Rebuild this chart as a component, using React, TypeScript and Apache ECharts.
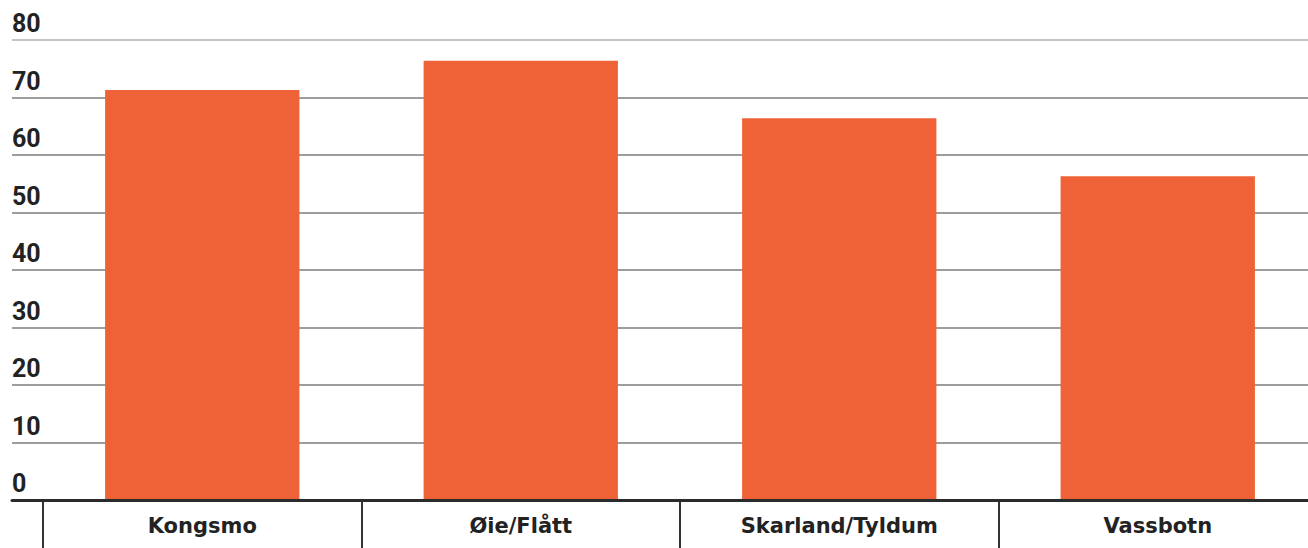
import React, { useEffect, useRef } from "react";
import * as echarts from "echarts";

const categories = ["Kongsmo", "Øie/Flått", "Skarland/Tyldum", "Vassbotn"];
const values = [71.3, 76.4, 66.4, 56.3];
const yTicks = [0, 10, 20, 30, 40, 50, 60, 70, 80];

export default function App() {
  const ref = useRef<HTMLDivElement>(null);
  useEffect(() => {
    if (!ref.current) return;
    const chart = echarts.init(ref.current, null, { renderer: "svg" });
    const font = "Roboto, 'Liberation Sans', sans-serif";
    const gridColors = yTicks.map((_, i) => (i === yTicks.length - 1 ? "#b0b0b0" : "#7d7d7d"));
    chart.setOption({
      animation: false,
      backgroundColor: "#ffffff",
      grid: [
        { left: 12, right: 0, top: 40, bottom: 48, outerBoundsMode: "none" },
        { left: 43, width: 1274, top: 40, bottom: 48, outerBoundsMode: "none", containLabel: false },
      ],
      xAxis: [
        {
          gridIndex: 0,
          type: "value",
          min: 0,
          max: 1,
          z: 10,
          axisLine: { show: true, lineStyle: { color: "#2b2b2b", width: 3 } },
          axisTick: { show: false },
          axisLabel: { show: false },
          splitLine: { show: false },
        },
        {
          gridIndex: 1,
          type: "category",
          data: categories,
          axisLine: { show: false },
          axisTick: { show: true, length: 48, lineStyle: { color: "#333", width: 2 } },
          axisLabel: {
            color: "#222",
            fontFamily: "'DejaVu Sans', sans-serif",
            fontWeight: "bold",
            fontSize: 21,
            margin: 15,
          },
        },
      ],
      yAxis: [
        {
          gridIndex: 0,
          type: "value",
          min: yTicks[0],
          max: yTicks[yTicks.length - 1],
          interval: 10,
          axisLine: { show: false },
          axisTick: { show: false },
          axisLabel: {
            inside: true,
            align: "left",
            verticalAlign: "bottom",
            margin: 0,
            padding: [0, 0, 4, 0],
            color: "#222",
            fontFamily: font,
            fontWeight: "bold",
            fontSize: 25,
          },
          splitLine: { show: true, lineStyle: { color: gridColors, width: 1.5 } },
        },
        {
          gridIndex: 1,
          type: "value",
          min: yTicks[0],
          max: yTicks[yTicks.length - 1],
          interval: 10,
          show: false,
          splitLine: { show: false },
        },
      ],
      series: [
        {
          type: "bar",
          xAxisIndex: 1,
          yAxisIndex: 1,
          data: values,
          barWidth: "61%",
          itemStyle: { color: "#EF6136" },
        },
      ],
    });
    return () => chart.dispose();
  }, []);
  return (
    <div
      ref={ref}
      style={{ position: "fixed", left: 0, top: 0, width: 1308, height: 548 }}
    />
  );
}
